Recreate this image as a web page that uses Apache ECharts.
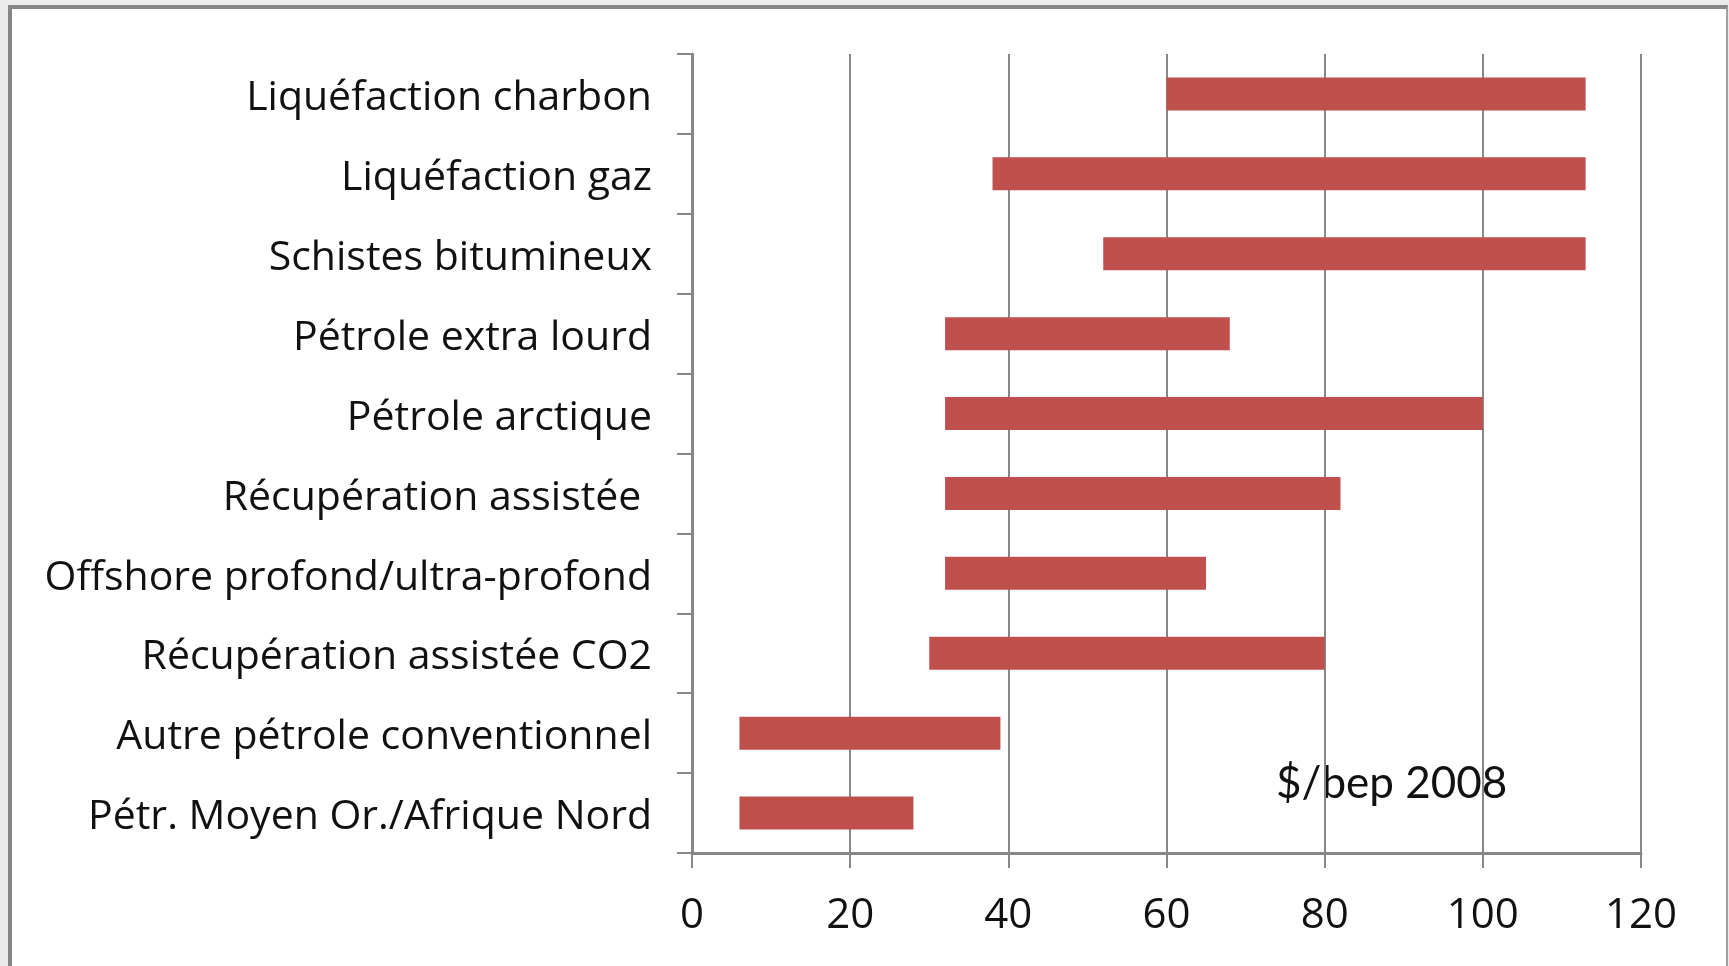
<!DOCTYPE html>
<html>
<head>
<meta charset="utf-8">
<script src="https://cdn.jsdelivr.net/npm/echarts@6/dist/echarts.min.js"></script>
<style>
  html, body { margin: 0; padding: 0; background: #ebebeb; overflow: hidden; }
  #frame {
    position: absolute; left: 8px; top: 5px; width: 1714px; height: 980px;
    background: #fff;
    border-left: 4px solid #868686; border-top: 4px solid #868686; border-right: 2px solid #a0a0a0;
  }
  #mychart { position: absolute; left: 0; top: 0; width: 1729px; height: 966px; }
</style>
</head>
<body>
<div id="frame"></div>
<div id="mychart"></div>
<script>
// catégories (de haut en bas)
var categories = [
  'Liquéfaction charbon',
  'Liquéfaction gaz',
  'Schistes bitumineux',
  'Pétrole extra lourd',
  'Pétrole arctique',
  'Récupération assistée ',
  'Offshore profond/ultra-profond',
  'Récupération assistée CO2',
  'Autre pétrole conventionnel',
  'Pétr. Moyen Or./Afrique Nord'
]
// coût minimum et maximum en $/bep 2008
var coutMin = [60, 38, 52, 32, 32, 32, 32, 30, 6, 6]
var coutMax = [113, 113, 113, 68, 100, 82, 65, 80, 39, 28]
var xTicks = [0, 20, 40, 60, 80, 100, 120]
var unite = '$/bep 2008'

var ecart = coutMax.map(function(v, i) { return v - coutMin[i] })
var font = '"Open Sans", Lato, sans-serif'
var gris = '#878787'

var myChart = echarts.init(document.getElementById('mychart'))
var option = {
  animation: false,
  backgroundColor: 'transparent',
  grid: { left: 692, right: 88, top: 54, bottom: 113 },
  xAxis: {
    type: 'value',
    min: xTicks[0],
    max: xTicks[xTicks.length - 1],
    interval: 20,
    axisLine: { show: true, lineStyle: { color: gris, width: 3 } },
    axisTick: { show: true, length: 15, lineStyle: { color: gris, width: 2 } },
    splitLine: { show: true, lineStyle: { color: gris, width: 2 } },
    axisLabel: { color: '#111', fontFamily: font, fontSize: 42, margin: 42 }
  },
  yAxis: {
    type: 'category',
    inverse: true,
    data: categories,
    axisLine: { show: true, lineStyle: { color: gris, width: 3 } },
    axisTick: { show: true, length: 15, lineStyle: { color: gris, width: 2 } },
    splitLine: { show: false },
    axisLabel: {
      margin: 40,
      formatter: function(v) { return '{a|' + v + '}' },
      rich: {
        a: { color: '#111', fontFamily: font, fontSize: 41, padding: [9, 0, 0, 0] }
      }
    }
  },
  graphic: [{
    type: 'text',
    left: 1276,
    top: 762,
    style: { text: unite, fontFamily: 'Lato, sans-serif', fontSize: 44, fill: '#111' }
  }],
  series: [
    {
      name: 'base',
      type: 'bar',
      stack: 'cout',
      barWidth: 33,
      itemStyle: { color: 'transparent' },
      data: coutMin
    },
    {
      name: 'cout',
      type: 'bar',
      stack: 'cout',
      barWidth: 33,
      itemStyle: { color: '#c0504d' },
      data: ecart
    }
  ]
}
myChart.setOption(option)
</script>
</body>
</html>
